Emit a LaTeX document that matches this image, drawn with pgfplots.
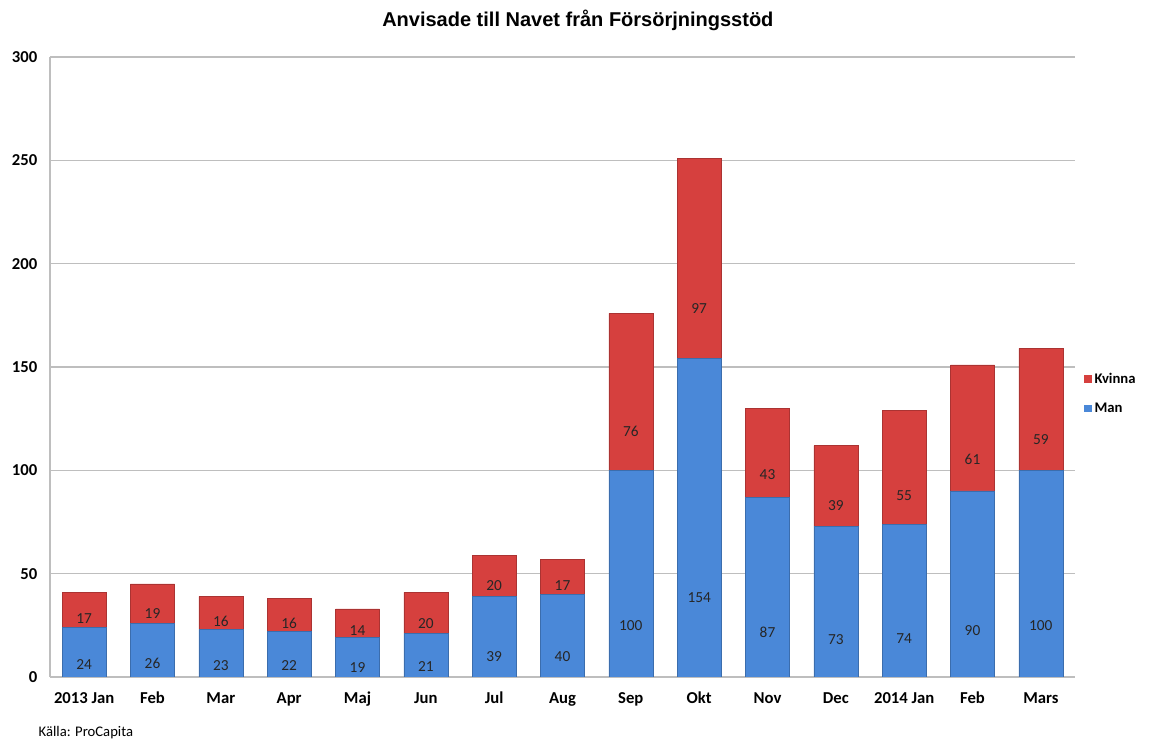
\documentclass[border=0pt]{standalone}
\usepackage{pgfplots}
\pgfplotsset{compat=1.18}
\usepackage{fontspec}
\setmainfont{Carlito}
\newfontfamily\titlefont{Liberation Sans}
\definecolor{manblue}{RGB}{74,136,216}
\definecolor{kvred}{RGB}{214,64,62}
\definecolor{gridgray}{RGB}{190,190,190}

\begin{document}
\begin{tikzpicture}
\begin{axis}[name=ax,
  scale only axis, width=768.75pt, height=465pt,
  ybar stacked, bar width=33pt,
  xmin=-0.5, xmax=14.5, ymin=0, ymax=300,
  ytick={0,50,100,150,200,250,300},
  xtick={0,...,14},
  xticklabels={2013 Jan,Feb,Mar,Apr,Maj,Jun,Jul,Aug,Sep,Okt,Nov,Dec,2014 Jan,Feb,Mars},
  axis x line*=bottom, axis y line*=left,
  axis line style={gridgray, line width=0.8pt},
  major tick length=0pt,
  ymajorgrids, grid style={gridgray, line width=0.8pt},
  tick label style={font=\fontsize{12.5}{15}\selectfont\bfseries, text=black},
  /pgf/number format/assume math mode=true,
  xticklabel style={text height=1.6ex, text depth=0.3ex, yshift=-9pt},
  yticklabel style={xshift=-6pt},
  title={\titlefont\bfseries Anvisade till Navet från Försörjningsstöd},
  title style={font=\fontsize{15}{18}\selectfont, at={(0.515,1)}, anchor=south, yshift=10pt},
  point meta=rawy,
  nodes near coords,
  visualization depends on={rawy \as \rawyval},
  every node near coord/.append style={font=\fontsize{11.5}{13}\selectfont, text=black!85, anchor=center,
    shift={(axis direction cs:0,-\rawyval/4)}},
  legend style={draw=none, fill=none, at={(1.005,0.457)}, anchor=west,
    font=\fontsize{11}{13}\selectfont\bfseries, row sep=9pt,
    legend cell align=left},
  legend image code/.code={\draw[#1, draw=none] (0cm,-0.1cm) rectangle (0.2cm,0.1cm);},
  reverse legend,
]
\addplot[fill=manblue, draw=manblue!80!black, line width=0.4pt] coordinates {
(0,24) (1,26) (2,23) (3,22) (4,19) (5,21) (6,39) (7,40) (8,100) (9,154) (10,87) (11,73) (12,74) (13,90) (14,100)};
\addlegendentry{Man}
\addplot[fill=kvred, draw=kvred!80!black, line width=0.4pt] coordinates {
(0,17) (1,19) (2,16) (3,16) (4,14) (5,20) (6,20) (7,17) (8,76) (9,97) (10,43) (11,39) (12,55) (13,61) (14,59)};
\addlegendentry{Kvinna}
\end{axis}
\node[anchor=west, font=\fontsize{11}{13}\selectfont] at ([xshift=-12pt, yshift=-42pt]ax.south west) {Källa: ProCapita};
\path (ax.south west) ++(-37.5pt,-47.25pt) rectangle ++(867.75pt,555pt);
\end{tikzpicture}
\end{document}
